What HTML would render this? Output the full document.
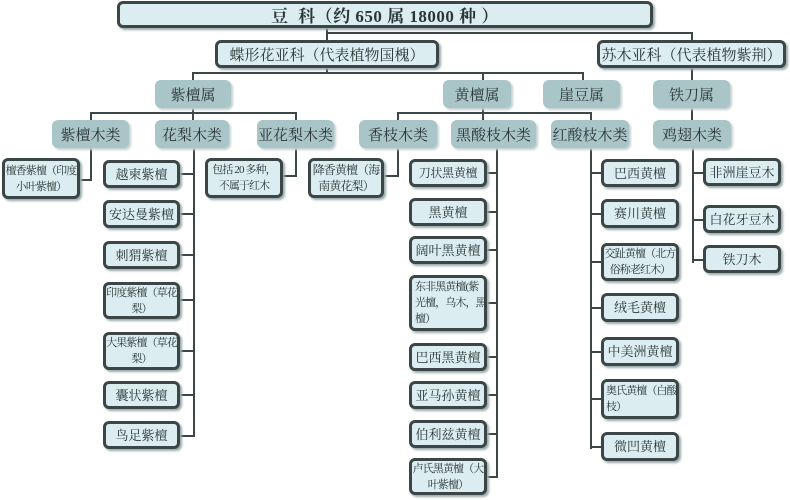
<!DOCTYPE html>
<html><head><meta charset="utf-8"><style>
body{margin:0;width:790px;height:500px;background:#fff;position:relative;overflow:hidden;font-family:"Liberation Serif","Noto Serif CJK SC","Noto Sans CJK SC",serif;}
.b{position:absolute;box-sizing:border-box;display:flex;align-items:center;justify-content:center;text-align:center;color:#2a3535;white-space:nowrap;}
.d{background:#dcedf1;border:3px solid #3c4646;border-radius:6px;box-shadow:2px 2px 2px #9aa;}
.g{background:#a9c5c8;border-radius:6px;box-shadow:2px 2px 2px #c4cfd0;font-size:15px;}
.l{font-size:13px;line-height:17px;}
.s{font-size:11px;line-height:16px;letter-spacing:-0.9px;}
.h{position:absolute;background:#3c4646;height:2px;}
.v{position:absolute;background:#3c4646;width:2px;}
</style></head><body>
<div class="v" style="left:326px;top:27px;height:14px"></div>
<div class="h" style="left:326px;top:32px;width:367px"></div>
<div class="v" style="left:691px;top:32px;height:9px"></div>
<div class="v" style="left:326px;top:66px;height:8px"></div>
<div class="h" style="left:192px;top:72px;width:392px"></div>
<div class="v" style="left:192px;top:72px;height:9px"></div>
<div class="v" style="left:482px;top:72px;height:9px"></div>
<div class="v" style="left:582px;top:72px;height:9px"></div>
<div class="v" style="left:691px;top:66px;height:55px"></div>
<div class="v" style="left:192px;top:107px;height:14px"></div>
<div class="h" style="left:90px;top:112px;width:207px"></div>
<div class="v" style="left:90px;top:112px;height:69px"></div>
<div class="h" style="left:78px;top:179px;width:14px"></div>
<div class="v" style="left:295px;top:112px;height:65px"></div>
<div class="h" style="left:281px;top:175px;width:16px"></div>
<div class="v" style="left:482px;top:107px;height:14px"></div>
<div class="h" style="left:397px;top:112px;width:195px"></div>
<div class="v" style="left:397px;top:112px;height:65px"></div>
<div class="h" style="left:382px;top:175px;width:17px"></div>
<div class="v" style="left:193px;top:147px;height:290px"></div>
<div class="v" style="left:496px;top:147px;height:331px"></div>
<div class="v" style="left:590px;top:112px;height:337px"></div>
<div class="v" style="left:692px;top:147px;height:116px"></div>
<div class="h" style="left:178px;top:173px;width:16px"></div>
<div class="h" style="left:178px;top:213px;width:16px"></div>
<div class="h" style="left:178px;top:254px;width:16px"></div>
<div class="h" style="left:178px;top:299px;width:16px"></div>
<div class="h" style="left:178px;top:350px;width:16px"></div>
<div class="h" style="left:178px;top:394px;width:16px"></div>
<div class="h" style="left:178px;top:435px;width:16px"></div>
<div class="h" style="left:485px;top:172px;width:12px"></div>
<div class="h" style="left:485px;top:211px;width:12px"></div>
<div class="h" style="left:485px;top:249px;width:12px"></div>
<div class="h" style="left:485px;top:302px;width:12px"></div>
<div class="h" style="left:485px;top:356px;width:12px"></div>
<div class="h" style="left:485px;top:394px;width:12px"></div>
<div class="h" style="left:485px;top:433px;width:12px"></div>
<div class="h" style="left:485px;top:476px;width:12px"></div>
<div class="h" style="left:590px;top:172px;width:13px"></div>
<div class="h" style="left:590px;top:213px;width:13px"></div>
<div class="h" style="left:590px;top:261px;width:13px"></div>
<div class="h" style="left:590px;top:307px;width:13px"></div>
<div class="h" style="left:590px;top:351px;width:13px"></div>
<div class="h" style="left:590px;top:398px;width:13px"></div>
<div class="h" style="left:590px;top:446px;width:13px"></div>
<div class="h" style="left:692px;top:172px;width:13px"></div>
<div class="h" style="left:692px;top:219px;width:13px"></div>
<div class="h" style="left:692px;top:259px;width:13px"></div>
<div class="b d" style="left:117px;top:1px;width:536px;height:27px;font-size:17px;font-weight:bold;letter-spacing:0.5px;">豆&nbsp;&nbsp;科（约 650 属 18000 种 ）</div>
<div class="b d" style="left:215px;top:40px;width:224px;height:28px;font-size:15px;">蝶形花亚科（代表植物国槐）</div>
<div class="b d" style="left:597px;top:40px;width:189px;height:28px;font-size:15px;">苏木亚科（代表植物紫荆）</div>
<div class="b g" style="left:155px;top:80px;width:76px;height:28px;">紫檀属</div>
<div class="b g" style="left:443px;top:80px;width:68px;height:28px;">黄檀属</div>
<div class="b g" style="left:543px;top:80px;width:77px;height:28px;">崖豆属</div>
<div class="b g" style="left:653px;top:80px;width:77px;height:28px;">铁刀属</div>
<div class="b g" style="left:52px;top:120px;width:77px;height:28px;">紫檀木类</div>
<div class="b g" style="left:155px;top:120px;width:74px;height:28px;">花梨木类</div>
<div class="b g" style="left:257px;top:120px;width:77px;height:28px;">亚花梨木类</div>
<div class="b g" style="left:359px;top:120px;width:78px;height:28px;">香枝木类</div>
<div class="b g" style="left:451px;top:120px;width:85px;height:28px;">黑酸枝木类</div>
<div class="b g" style="left:551px;top:120px;width:78px;height:28px;">红酸枝木类</div>
<div class="b g" style="left:653px;top:120px;width:78px;height:28px;">鸡翅木类</div>
<div class="b d s" style="left:2px;top:158px;width:78px;height:41px;">檀香紫檀（印度<br>小叶紫檀）</div>
<div class="b d s" style="left:205px;top:158px;width:78px;height:40px;">包括 20 多种，<br>不属于红木</div>
<div class="b d s" style="left:308px;top:158px;width:76px;height:40px;font-size:12px;">降香黄檀（海<br>南黄花梨）</div>
<div class="b d l" style="left:103px;top:160px;width:77px;height:28px;">越柬紫檀</div>
<div class="b d l" style="left:103px;top:200px;width:77px;height:28px;">安达曼紫檀</div>
<div class="b d l" style="left:103px;top:241px;width:77px;height:28px;">刺猬紫檀</div>
<div class="b d s" style="left:103px;top:282px;width:77px;height:37px;">印度紫檀（草花<br>梨）</div>
<div class="b d s" style="left:103px;top:332px;width:77px;height:38px;">大果紫檀（草花<br>梨）</div>
<div class="b d l" style="left:103px;top:381px;width:77px;height:28px;">囊状紫檀</div>
<div class="b d l" style="left:103px;top:421px;width:77px;height:28px;">鸟足紫檀</div>
<div class="b d s" style="left:409px;top:159px;width:78px;height:28px;font-size:12px;letter-spacing:-0.3px;">刀状黑黄檀</div>
<div class="b d l" style="left:409px;top:198px;width:78px;height:28px;">黑黄檀</div>
<div class="b d l" style="left:409px;top:236px;width:78px;height:28px;">阔叶黑黄檀</div>
<div class="b d s" style="left:409px;top:275px;width:78px;height:56px;text-align:left;justify-content:flex-start;padding-left:3px;">东非黑黄檀(紫<br>光檀，乌木，黑<br>檀）</div>
<div class="b d l" style="left:409px;top:343px;width:78px;height:28px;">巴西黑黄檀</div>
<div class="b d l" style="left:409px;top:381px;width:78px;height:28px;">亚马孙黄檀</div>
<div class="b d l" style="left:409px;top:420px;width:78px;height:28px;">伯利兹黄檀</div>
<div class="b d s" style="left:409px;top:458px;width:78px;height:37px;">卢氏黑黄檀（大<br>叶紫檀）</div>
<div class="b d l" style="left:601px;top:159px;width:78px;height:28px;">巴西黄檀</div>
<div class="b d l" style="left:601px;top:199px;width:78px;height:29px;">赛川黄檀</div>
<div class="b d s" style="left:601px;top:243px;width:78px;height:38px;">交趾黄檀（北方<br>俗称老红木）</div>
<div class="b d l" style="left:601px;top:293px;width:78px;height:29px;">绒毛黄檀</div>
<div class="b d l" style="left:601px;top:337px;width:78px;height:29px;">中美洲黄檀</div>
<div class="b d s" style="left:601px;top:379px;width:78px;height:40px;text-align:left;justify-content:flex-start;padding-left:2px;">奥氏黄檀（白酸<br>枝）</div>
<div class="b d l" style="left:601px;top:432px;width:78px;height:29px;">微凹黄檀</div>
<div class="b d l" style="left:703px;top:158px;width:78px;height:28px;">非洲崖豆木</div>
<div class="b d l" style="left:703px;top:205px;width:78px;height:28px;">白花牙豆木</div>
<div class="b d l" style="left:703px;top:245px;width:78px;height:28px;">铁刀木</div>
</body></html>
